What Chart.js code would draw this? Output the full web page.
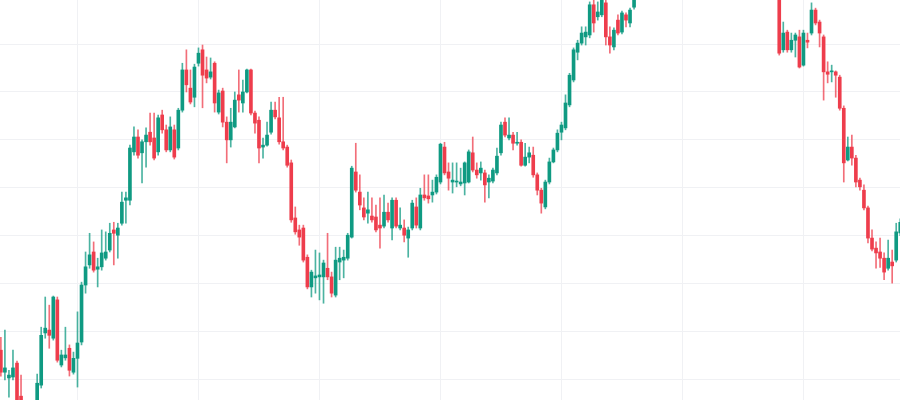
<!DOCTYPE html>
<html>
<head>
<meta charset="utf-8">
<title>Candles</title>
<script src="https://cdn.jsdelivr.net/npm/chart.js@4/dist/chart.umd.min.js"></script>
<style>
    html, body { margin: 0; padding: 0; background: #ffffff; }
    #wrap { width: 900px; height: 400px; }
</style>
</head>
<body>
<div id="wrap"><canvas id="candleChart" width="900" height="400"></canvas></div>
<script>
// OHLC values, one entry per session
const opens = [
    106.1, 101.5, 100.3, 100.5, 103.4, 96.5, 93.0, 91.5, 92.5, 94.0,
    98.8, 109.7, 110.3, 108.6, 116.6, 103.0, 104.5, 106.5, 101.5, 104.4,
    107.8, 119.7, 123.9, 126.6, 123.0, 123.5, 125.3, 127.0, 131.2, 130.1,
    132.6, 137.4, 137.4, 147.5, 150.6, 147.3, 149.6, 151.6, 150.4, 147.5,
    155.2, 152.1, 147.9, 152.1, 148.3, 156.2, 164.6, 160.8, 158.9, 166.0,
    168.8, 164.6, 163.1, 166.0, 155.8, 160.2, 153.7, 150.0, 152.7, 159.4,
    157.7, 160.0, 164.6, 155.6, 154.1, 148.5, 148.9, 151.6, 156.2, 154.6,
    149.6, 148.5, 145.2, 133.7, 131.2, 131.6, 125.5, 119.3, 121.2, 121.4,
    121.4, 123.2, 121.4, 117.6, 124.5, 124.9, 125.3, 129.7, 143.3, 139.1,
    135.8, 134.7, 134.1, 133.9, 132.2, 132.0, 134.9, 131.6, 137.4, 131.6,
    131.6, 129.5, 131.6, 136.0, 131.6, 138.5, 138.3, 138.5, 139.1, 141.2,
    148.5, 143.3, 141.2, 141.2, 140.8, 141.0, 141.2, 147.3, 143.7, 143.1,
    143.1, 141.2, 141.4, 143.1, 147.3, 153.7, 150.4, 151.0, 149.3, 149.5,
    144.7, 146.4, 146.8, 142.7, 139.5, 136.0, 141.2, 145.4, 147.9, 151.6,
    152.5, 157.3, 162.5, 168.3, 170.2, 171.5, 171.9, 178.2, 175.7, 176.1,
    178.6, 171.5, 169.4, 175.0, 172.5, 176.1, 174.4, 177.7, 181.0, 182.6,
    181.9, 184.3, 185.5, 184.2, 186.9, 188.0, 186.4, 189.1, 190.3, 188.2,
    189.7, 191.8, 191.2, 189.5, 188.1, 190.4, 189.3, 187.0, 188.1, 186.3,
    184.8, 186.0, 187.2, 185.4, 183.6, 185.0, 186.3, 185.1, 183.3, 184.6,
    182.9, 183.7, 181.8, 181.5, 168.8, 172.5, 168.8, 170.8, 171.5, 165.6,
    170.8, 172.3, 177.1, 174.6, 171.5, 164.2, 164.2, 164.2, 163.1, 156.6,
    145.8, 148.5, 146.2, 141.6, 139.5, 135.8, 129.5, 127.4, 126.6, 125.3,
    123.2, 124.5, 124.9, 130.6
];
const highs = [
    108.8, 110.3, 101.9, 106.1, 103.8, 100.9, 94.0, 93.5, 95.2, 101.1,
    110.9, 117.2, 115.5, 117.4, 117.2, 106.1, 110.9, 107.2, 105.7, 114.1,
    120.3, 126.6, 130.5, 128.7, 125.3, 131.2, 130.8, 132.6, 132.8, 132.6,
    139.1, 139.1, 148.9, 152.7, 152.1, 150.0, 152.5, 155.6, 155.6, 155.2,
    156.2, 153.1, 154.8, 153.1, 156.6, 166.0, 168.8, 164.6, 165.8, 169.2,
    169.8, 167.3, 167.1, 166.3, 160.4, 160.8, 154.8, 156.6, 160.0, 164.6,
    162.5, 164.8, 164.8, 156.0, 154.8, 150.4, 153.7, 157.9, 157.9, 158.9,
    158.9, 148.9, 145.8, 136.0, 132.2, 132.2, 126.0, 122.8, 127.0, 126.4,
    124.9, 130.5, 122.4, 127.6, 127.6, 127.0, 130.5, 144.5, 149.3, 142.7,
    137.9, 139.1, 137.9, 136.4, 137.9, 138.5, 136.8, 137.9, 137.9, 135.8,
    133.3, 131.8, 137.4, 137.9, 139.9, 142.7, 142.7, 141.6, 142.7, 149.3,
    149.5, 145.2, 145.2, 145.2, 144.1, 145.4, 147.9, 150.6, 145.2, 145.4,
    143.7, 142.7, 144.1, 148.3, 153.7, 154.6, 154.6, 151.6, 151.6, 150.0,
    149.3, 148.5, 148.5, 143.1, 139.9, 141.6, 146.2, 148.3, 152.1, 153.7,
    159.4, 163.9, 169.2, 170.8, 173.6, 173.6, 178.8, 180.0, 178.8, 181.0,
    180.5, 173.6, 173.4, 176.1, 176.9, 176.5, 177.5, 182.0, 183.2, 184.0,
    184.8, 186.0, 186.4, 187.3, 188.5, 188.9, 189.6, 191.0, 190.9, 190.2,
    192.5, 193.6, 192.3, 190.4, 190.9, 191.6, 189.9, 188.6, 189.4, 187.0,
    186.5, 187.8, 188.1, 186.2, 185.5, 186.9, 187.2, 185.8, 185.0, 185.3,
    184.1, 184.4, 182.9, 183.0, 174.6, 172.9, 172.3, 172.3, 172.9, 172.9,
    172.3, 178.6, 177.5, 175.0, 171.9, 166.3, 165.6, 164.4, 163.5, 157.1,
    150.6, 151.0, 146.8, 142.0, 140.6, 136.2, 131.2, 128.7, 129.5, 126.4,
    129.1, 127.0, 132.6, 133.5
];
const lows = [
    100.7, 99.9, 96.3, 99.9, 93.5, 92.0, 90.8, 90.5, 91.8, 93.5,
    98.2, 108.6, 106.5, 108.2, 103.6, 102.6, 104.0, 100.7, 101.1, 98.4,
    107.2, 118.0, 123.2, 122.4, 119.3, 122.8, 124.9, 126.6, 123.9, 125.3,
    132.2, 132.6, 136.4, 146.8, 146.2, 141.0, 144.3, 148.9, 145.8, 146.8,
    151.4, 147.5, 147.5, 146.0, 147.9, 155.8, 160.0, 157.5, 156.9, 165.4,
    156.7, 161.9, 162.7, 155.8, 155.4, 152.7, 145.2, 148.5, 152.5, 155.8,
    155.8, 159.8, 155.2, 151.4, 145.2, 146.2, 148.7, 151.2, 154.4, 149.1,
    147.9, 144.3, 132.8, 130.3, 128.0, 124.5, 118.9, 117.2, 118.0, 116.6,
    115.9, 120.8, 117.2, 117.2, 120.8, 121.2, 124.9, 129.5, 139.1, 135.4,
    133.3, 132.6, 132.8, 130.8, 127.4, 131.6, 132.8, 129.1, 131.6, 131.2,
    128.7, 125.5, 131.2, 131.6, 131.2, 137.4, 136.8, 137.0, 138.7, 140.8,
    142.7, 139.5, 138.9, 140.2, 140.4, 138.5, 141.0, 143.3, 142.0, 141.6,
    137.0, 137.9, 141.0, 142.7, 146.8, 150.6, 150.0, 147.9, 148.9, 144.5,
    144.5, 145.2, 142.2, 138.5, 134.7, 135.6, 140.8, 145.2, 147.5, 150.0,
    152.1, 156.9, 162.1, 166.7, 169.8, 169.8, 171.3, 172.5, 175.0, 175.7,
    169.8, 168.1, 168.8, 171.9, 172.1, 173.6, 173.6, 177.3, 180.4, 181.5,
    181.2, 183.6, 183.8, 183.9, 186.0, 185.9, 186.1, 188.4, 187.6, 187.4,
    189.2, 190.7, 188.9, 187.3, 187.5, 188.8, 186.4, 186.1, 185.8, 184.2,
    184.1, 185.3, 184.9, 183.0, 183.0, 184.4, 184.5, 182.7, 182.8, 182.3,
    182.0, 181.3, 180.4, 167.7, 168.3, 168.3, 168.3, 167.3, 165.0, 165.4,
    169.2, 171.9, 174.0, 169.4, 158.3, 161.9, 162.1, 158.9, 156.2, 141.2,
    145.6, 144.7, 140.2, 139.5, 135.4, 128.5, 126.8, 123.2, 123.4, 120.8,
    122.8, 120.1, 124.5, 130.0
];
const closes = [
    101.5, 102.4, 100.9, 102.4, 94.6, 93.0, 91.5, 92.5, 94.5, 99.2,
    109.2, 110.7, 109.2, 117.2, 104.0, 105.1, 105.1, 101.9, 104.4, 107.6,
    119.7, 123.5, 126.0, 122.8, 123.5, 126.4, 126.6, 130.5, 130.5, 131.6,
    137.0, 137.9, 148.3, 150.6, 146.8, 149.6, 151.0, 149.6, 146.2, 154.6,
    152.1, 147.9, 152.7, 146.4, 156.2, 164.6, 161.5, 157.9, 165.2, 168.1,
    163.5, 162.9, 164.2, 157.7, 159.8, 153.7, 150.0, 153.7, 158.3, 158.3,
    160.0, 164.6, 155.6, 153.5, 148.3, 148.9, 151.0, 156.2, 154.8, 149.6,
    148.3, 144.7, 133.3, 130.8, 129.7, 124.9, 119.3, 122.4, 121.6, 121.8,
    124.3, 121.4, 118.0, 124.9, 125.3, 125.5, 130.1, 144.1, 139.5, 136.4,
    133.9, 135.4, 133.3, 131.2, 131.6, 134.9, 133.3, 137.4, 132.0, 132.2,
    130.1, 131.2, 136.8, 132.2, 138.5, 137.9, 137.7, 139.1, 142.2, 149.1,
    143.1, 142.0, 141.6, 141.4, 141.2, 145.2, 147.5, 143.7, 142.7, 144.1,
    140.6, 142.0, 143.7, 146.6, 153.1, 151.0, 151.0, 149.3, 149.5, 144.7,
    146.4, 147.3, 142.7, 139.5, 136.8, 141.2, 145.4, 147.9, 151.4, 153.1,
    157.7, 163.5, 168.8, 170.2, 172.3, 172.5, 178.2, 174.4, 176.7, 180.0,
    171.5, 169.8, 172.9, 172.3, 176.5, 175.0, 177.1, 181.0, 182.6, 181.9,
    184.3, 185.5, 184.2, 186.9, 188.0, 186.4, 189.1, 190.3, 188.2, 189.7,
    191.8, 191.2, 189.5, 188.1, 190.4, 189.3, 187.0, 188.1, 186.3, 184.8,
    186.0, 187.2, 185.4, 183.6, 185.0, 186.3, 185.1, 183.3, 184.6, 182.9,
    183.7, 181.8, 181.5, 168.1, 172.3, 168.8, 170.8, 171.9, 165.2, 172.3,
    170.4, 177.1, 174.4, 172.3, 164.2, 163.7, 164.4, 163.5, 156.6, 145.2,
    148.5, 146.2, 141.2, 140.2, 135.8, 129.5, 127.2, 126.4, 125.3, 122.4,
    125.3, 123.7, 130.8, 132.8
];

// grid positions (session index / price)
const timeTicks = [19, 49, 79, 109, 139, 169, 199];
const priceTicks = [100, 110, 120, 130, 140, 150, 160, 170];

const upColor = '#0f9a82';
const downColor = '#ee3d4c';
const upWick = 'rgba(15, 154, 130, 0.75)';
const downWick = 'rgba(238, 61, 76, 0.75)';
const gridColor = '#f0f1f4';

const isUp = opens.map((o, i) => closes[i] >= o);
const bodyColors = isUp.map(up => up ? upColor : downColor);
const wickColors = isUp.map(up => up ? upWick : downWick);
const wickData = opens.map((o, i) => ({ x: i, y: [lows[i], highs[i]] }));
const bodyData = opens.map((o, i) => ({ x: i, y: [o, closes[i]] }));

const ctx = document.getElementById('candleChart').getContext('2d');
const candleChart = new Chart(ctx, {
    type: 'bar',
    data: {
        datasets: [{
            label: 'wick',
            data: wickData,
            backgroundColor: wickColors,
            barThickness: 1,
            grouped: false,
            order: 2
        }, {
            label: 'body',
            data: bodyData,
            backgroundColor: bodyColors,
            barThickness: 3,
            minBarLength: 1,
            grouped: false,
            order: 1
        }]
    },
    options: {
        responsive: false,
        animation: false,
        layout: { padding: 0 },
        plugins: {
            legend: { display: false },
            tooltip: { enabled: false }
        },
        scales: {
            x: {
                type: 'linear',
                offset: false,
                min: -0.216,
                max: 222.94,
                afterBuildTicks: scale => {
                    scale.ticks = timeTicks.map(v => ({ value: v }));
                },
                ticks: { display: false },
                grid: { color: gridColor, drawTicks: false, offset: false },
                border: { display: false }
            },
            y: {
                min: 95.7,
                max: 179.2,
                afterBuildTicks: scale => {
                    scale.ticks = priceTicks.map(v => ({ value: v }));
                },
                ticks: { display: false },
                grid: { color: gridColor, drawTicks: false },
                border: { display: false }
            }
        }
    }
});
</script>
</body>
</html>
